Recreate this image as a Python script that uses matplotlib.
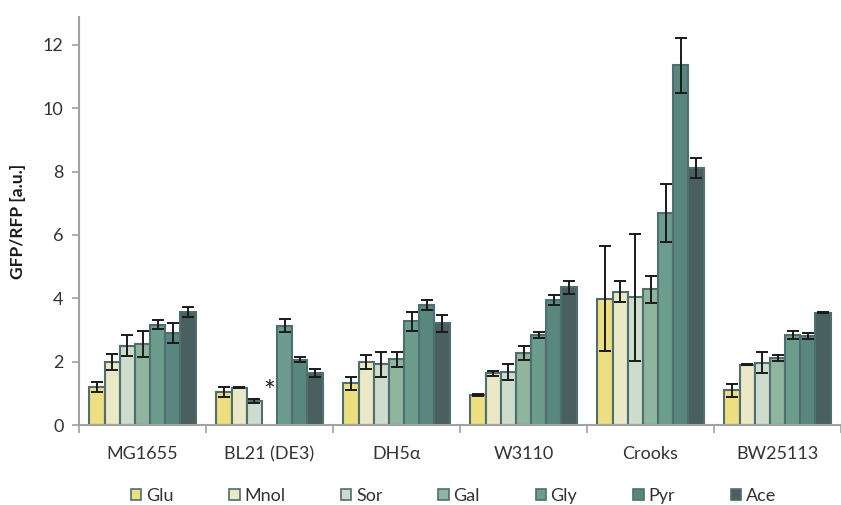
import matplotlib.pyplot as plt
import numpy as np
from matplotlib.patches import Patch

strains = ['MG1655', 'BL21 (DE3)', 'DH5\u03b1', 'W3110', 'Crooks', 'BW25113']
carbon = ['Glu', 'Mnol', 'Sor', 'Gal', 'Gly', 'Pyr', 'Ace']

# GFP/RFP per strain (rows) and carbon source (columns); nan = no growth (*)
values = np.array([
    [1.20, 1.98, 2.50, 2.56, 3.17, 2.90, 3.56],
    [1.05, 1.18, 0.76, np.nan, 3.14, 2.06, 1.63],
    [1.32, 1.98, 1.92, 2.07, 3.27, 3.79, 3.21],
    [0.95, 1.64, 1.68, 2.27, 2.85, 3.94, 4.35],
    [3.99, 4.21, 4.03, 4.28, 6.70, 11.35, 8.12],
    [1.09, 1.90, 1.97, 2.12, 2.83, 2.82, 3.55],
])
errors = np.array([
    [0.16, 0.25, 0.33, 0.40, 0.13, 0.31, 0.16],
    [0.16, 0.02, 0.06, np.nan, 0.20, 0.08, 0.13],
    [0.20, 0.22, 0.40, 0.23, 0.30, 0.16, 0.27],
    [0.03, 0.08, 0.26, 0.23, 0.09, 0.16, 0.20],
    [1.65, 0.34, 2.00, 0.43, 0.92, 0.87, 0.31],
    [0.21, 0.02, 0.32, 0.10, 0.13, 0.10, 0.02],
])

colors = ['#EDDE80', '#EAE8C6', '#CDDCCD', '#8FB59E', '#6B9C8C', '#5A877D', '#4A5F60']
edge = '#4F6E6E'

plt.rcParams['font.family'] = ['Lato', 'DejaVu Sans']

fig = plt.figure(figsize=(8.41, 5.05), dpi=100)
ax = fig.add_axes([79 / 841, 1 - 425 / 505, 1 - 79 / 841, (425 - 17) / 505])

x = np.arange(len(strains))
w = 0.1195
for j, name in enumerate(carbon):
    pos = x + (j - 3) * w
    ax.bar(pos, values[:, j], width=w, color=colors[j], edgecolor=edge,
           linewidth=1.5, label=name, zorder=2)
    ax.errorbar(pos, values[:, j], yerr=errors[:, j], fmt='none', ecolor='#1a1a1a',
                elinewidth=1.4, capsize=4.5, capthick=1.4, zorder=3)

# asterisk for missing BL21 Gal
ax.text(1, 1.0, '*', ha='center', va='center', fontsize=20, color='#222222')

ax.set_xlim(-0.5, len(strains) - 0.5)
ax.set_ylim(0, 12.88)
ax.set_yticks(np.arange(0, 13, 2))
ax.set_xticks(x)
ax.set_xticklabels(strains)
ax.set_xticks(np.arange(-0.5, len(strains)), minor=True)
ax.tick_params(axis='x', which='major', length=0, pad=15, labelsize=13, labelcolor='#333333')
ax.tick_params(axis='x', which='minor', length=6, color='#A0A0A0', width=1.2)
ax.tick_params(axis='y', length=5, color='#A0A0A0', width=1.2, labelsize=13,
               labelcolor='#333333', pad=6)

for s in ['top', 'right']:
    ax.spines[s].set_visible(False)
for s in ['left', 'bottom']:
    ax.spines[s].set_color('#A0A0A0')
    ax.spines[s].set_linewidth(1.5)

ax.set_ylabel('GFP/RFP [a.u.]', fontsize=12.5, fontweight='bold', color='#1a1a1a', labelpad=12)

handles = [Patch(facecolor=c, edgecolor=edge, linewidth=1.2) for c in colors]
fig.legend(handles, carbon, loc='center left', bbox_to_anchor=(131 / 841, 1 - 496 / 505),
           ncol=7, frameon=False, fontsize=13, handlelength=0.57, handleheight=0.57,
           handletextpad=0.25, columnspacing=3.1, borderpad=0, borderaxespad=0,
           labelcolor='#333333')

fig.savefig('out.png', dpi=100)
